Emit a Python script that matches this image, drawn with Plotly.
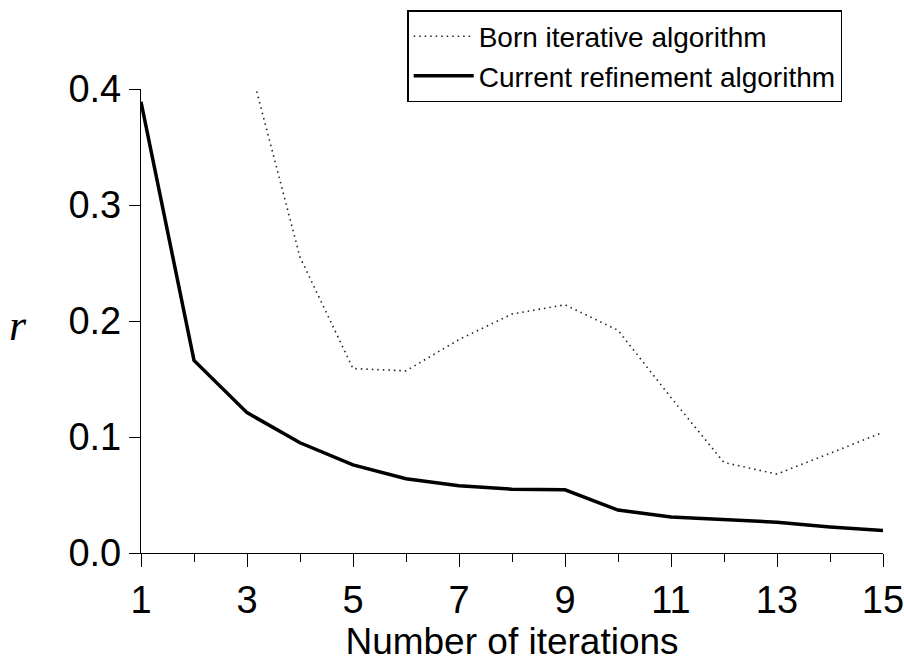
import plotly.graph_objects as go

iterations = list(range(1, 16))
born_x = list(range(3, 16))
born_r = [0.43, 0.255, 0.159, 0.157, 0.184, 0.206, 0.214, 0.192, 0.134, 0.078, 0.068, 0.086, 0.104]
current_r = [0.389, 0.166, 0.121, 0.095, 0.076, 0.064, 0.058, 0.055, 0.0545, 0.037, 0.031,
             0.0285, 0.0265, 0.0225, 0.0195]

FONT = "Liberation Sans, Arial, Helvetica, sans-serif"

fig = go.Figure()
fig.add_trace(go.Scatter(
    x=born_x, y=born_r, mode="lines", name="Born iterative algorithm",
    line=dict(color="#222222", width=1.6, dash="1.5px,4px"),
))
fig.add_trace(go.Scatter(
    x=iterations, y=current_r, mode="lines", name="Current refinement algorithm",
    line=dict(color="black", width=3.5),
))

fig.update_layout(
    width=904, height=667,
    margin=dict(l=141, r=21, t=89, b=114, autoexpand=False),
    paper_bgcolor="white", plot_bgcolor="white",
    font=dict(family=FONT, color="black"),
    showlegend=True,
    legend=dict(
        x=0.945, y=1.17, xanchor="right", yanchor="top",
        bgcolor="white", bordercolor="black", borderwidth=1.5,
        font=dict(size=28, family=FONT, color="black"),
        itemwidth=60, tracegroupgap=0,
    ),
    xaxis=dict(
        range=[1, 15], tick0=1, dtick=2, ticks="outside", ticklen=13, tickwidth=1.2,
        tickcolor="black", showline=True, linecolor="black", linewidth=1.3,
        showgrid=False, zeroline=False, ticklabeloverflow="allow", automargin=False,
        tickfont=dict(size=38, family=FONT),
        minor=dict(dtick=1, tick0=1, ticks="outside", ticklen=8, tickwidth=1.2, tickcolor="black", showgrid=False),
        title=dict(text="Number of iterations", font=dict(size=37, family=FONT), standoff=6),
    ),
    yaxis=dict(
        range=[0, 0.4], dtick=0.1, tickformat=".1f", ticks="outside", ticklen=11, tickwidth=1.2,
        tickcolor="black", showline=True, linecolor="black", linewidth=1.3,
        showgrid=False, zeroline=False, automargin=False,
        tickfont=dict(size=38, family=FONT),
    ),
    annotations=[dict(
        text="<i>r</i>", xref="paper", yref="paper", x=-0.166, y=0.491,
        xanchor="center", yanchor="middle", showarrow=False,
        font=dict(size=44, family="Liberation Serif, Times New Roman, serif", color="black"),
    )],
)

fig.write_html("out.html")
